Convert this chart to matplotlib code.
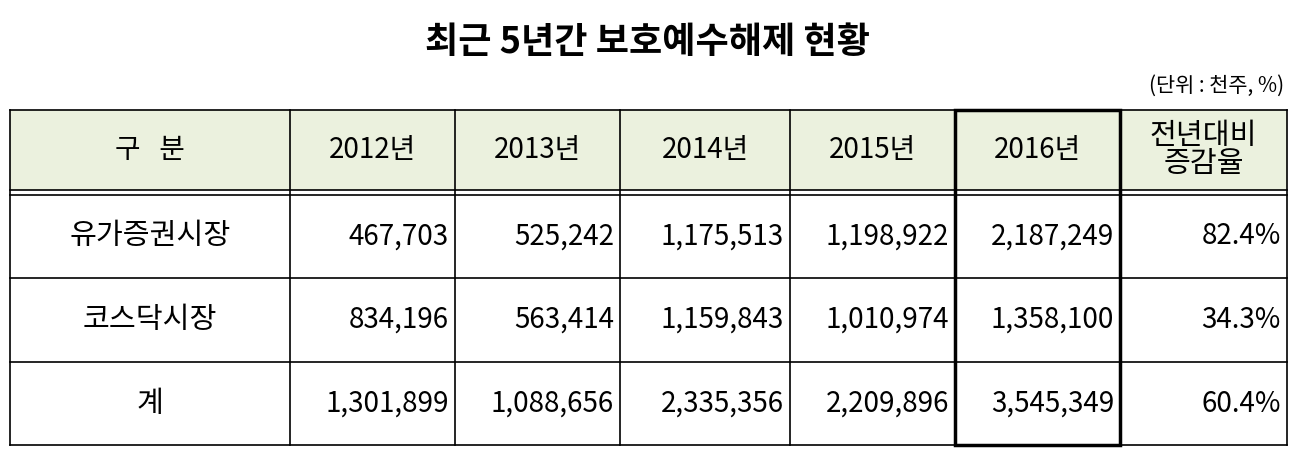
import matplotlib
matplotlib.use("Agg")
import matplotlib.pyplot as plt
from matplotlib.patches import Rectangle

plt.rcParams['font.family'] = ['Noto Sans CJK KR', 'DejaVu Sans']

title = "최근 5년간 보호예수해제 현황"
unit = "(단위 : 천주, %)"
headers = ["구   분", "2012년", "2013년", "2014년", "2015년", "2016년", "전년대비\n증감율"]
row_labels = ["유가증권시장", "코스닥시장", "계"]
v2012 = ["467,703", "834,196", "1,301,899"]
v2013 = ["525,242", "563,414", "1,088,656"]
v2014 = ["1,175,513", "1,159,843", "2,335,356"]
v2015 = ["1,198,922", "1,010,974", "2,209,896"]
v2016 = ["2,187,249", "1,358,100", "3,545,349"]
change = ["82.4%", "34.3%", "60.4%"]

W, H = 1295, 458
fig = plt.figure(figsize=(W/100, H/100), dpi=100)
ax = fig.add_axes([0, 0, 1, 1])
ax.set_xlim(0, W); ax.set_ylim(H, 0); ax.axis('off')

xs = [10, 290, 455, 620, 790, 955, 1120, 1287]
ys = [110, 190, 195, 278, 362, 445]

ax.text(W/2, 42, title, ha='center', va='center', fontsize=26, fontweight='bold')
ax.text(1284, 86, unit, ha='right', va='center', fontsize=15)

ax.add_patch(Rectangle((xs[0], ys[0]), xs[-1]-xs[0], ys[1]-ys[0], facecolor='#ebf1de', edgecolor='none'))
lw = 1.2
for y in ys:
    ax.plot([xs[0], xs[-1]], [y, y], color='black', lw=lw)
for x in xs:
    ax.plot([x, x], [ys[0], ys[5]], color='black', lw=lw)
ax.add_patch(Rectangle((xs[5], ys[0]), xs[6]-xs[5], ys[5]-ys[0], facecolor='none', edgecolor='black', lw=2.5))

fs = 20
for i, h in enumerate(headers):
    cx = (xs[i] + xs[i+1]) / 2
    ax.text(cx, (ys[0]+ys[1])/2, h, ha='center', va='center',
            fontsize=21 if i == 6 else fs, linespacing=0.9)

cols = [v2012, v2013, v2014, v2015, v2016, change]
for r in range(3):
    cy = (ys[2+r] + ys[3+r]) / 2
    ax.text((xs[0]+xs[1])/2, cy, row_labels[r], ha='center', va='center', fontsize=21)
    for c, col in enumerate(cols):
        ax.text(xs[c+2] - 6, cy, col[r], ha='right', va='center', fontsize=fs)

fig.savefig("out.png", dpi=100)
